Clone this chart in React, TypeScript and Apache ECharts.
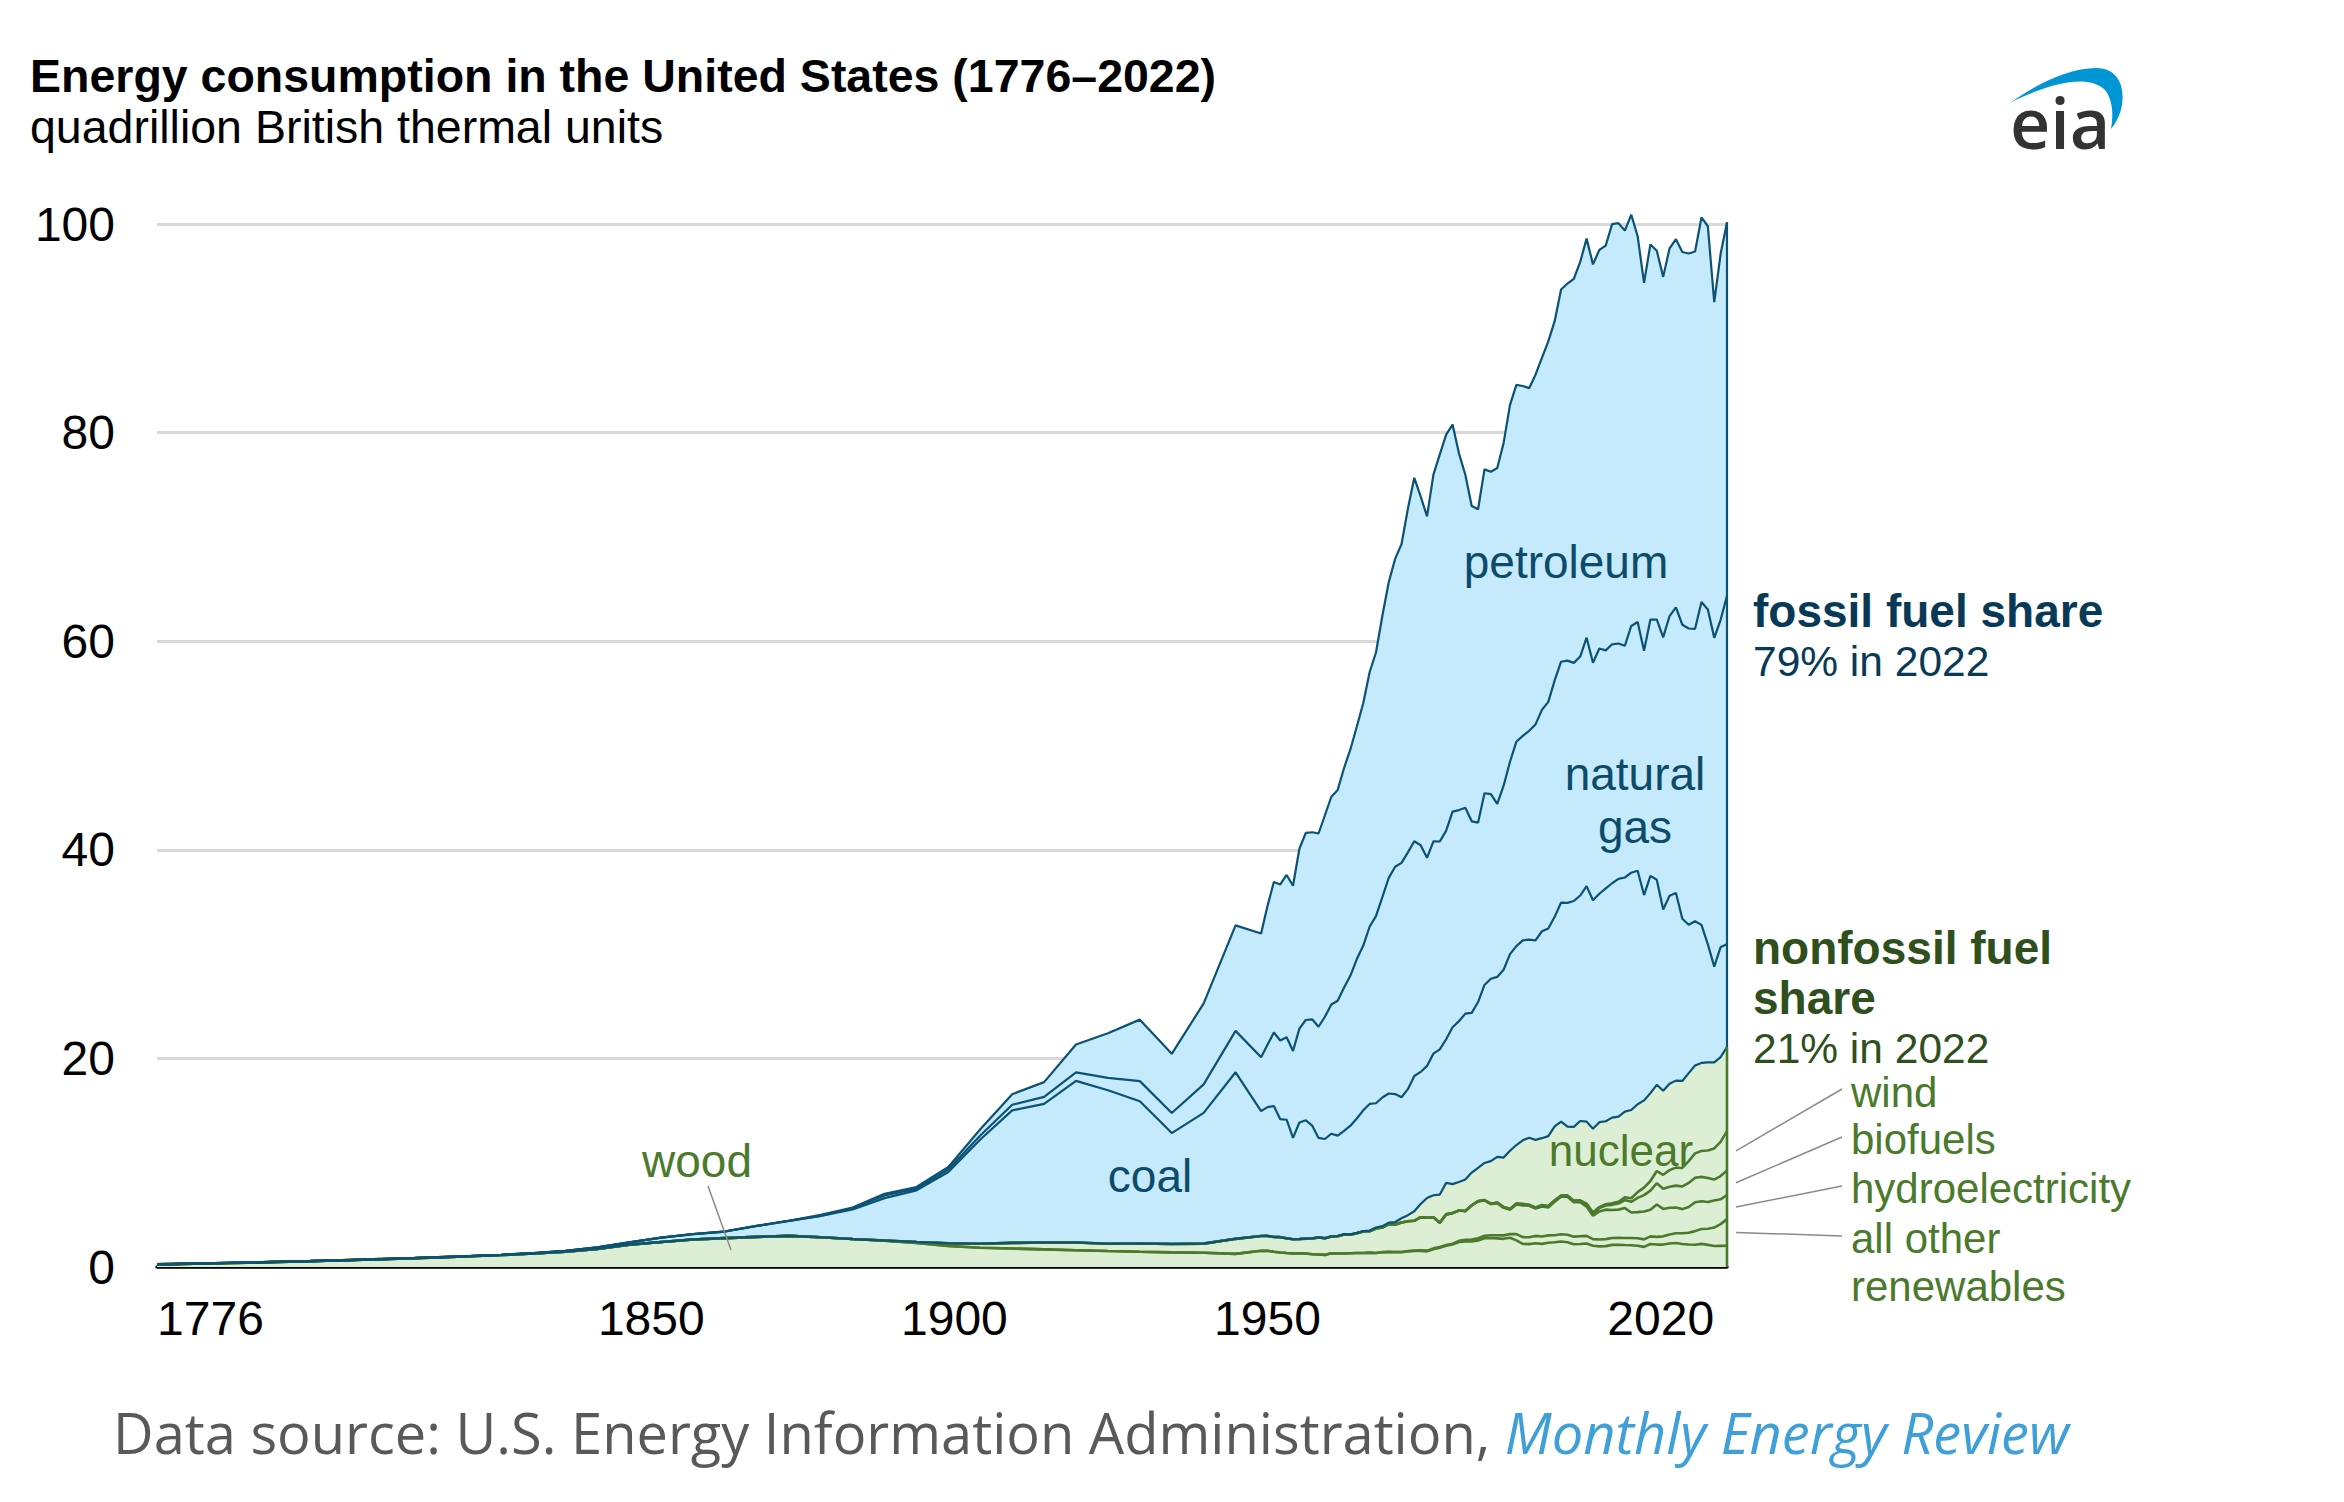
import React, { useEffect, useRef } from "react";
import * as echarts from "echarts";

// ---------- data (quadrillion Btu) ----------
const years = [
  1776, 1780, 1785, 1790, 1795, 1800, 1805, 1810, 1815, 1820, 1825, 1830, 1835, 1840, 1845,
  1850, 1855, 1860, 1865, 1870, 1875, 1880, 1885, 1890, 1895, 1900, 1905, 1910, 1915, 1920,
  1925, 1930, 1935, 1940, 1945,
  1949, 1950, 1951, 1952, 1953, 1954, 1955, 1956, 1957, 1958, 1959,
  1960, 1961, 1962, 1963, 1964, 1965, 1966, 1967, 1968, 1969,
  1970, 1971, 1972, 1973, 1974, 1975, 1976, 1977, 1978, 1979,
  1980, 1981, 1982, 1983, 1984, 1985, 1986, 1987, 1988, 1989,
  1990, 1991, 1992, 1993, 1994, 1995, 1996, 1997, 1998, 1999,
  2000, 2001, 2002, 2003, 2004, 2005, 2006, 2007, 2008, 2009,
  2010, 2011, 2012, 2013, 2014, 2015, 2016, 2017, 2018, 2019,
  2020, 2021, 2022,
];

const wood = [
  0.25, 0.30, 0.36, 0.42, 0.49, 0.56, 0.64, 0.73, 0.82, 0.92, 1.03, 1.15, 1.29, 1.47, 1.74,
  2.14, 2.39, 2.64, 2.77, 2.89, 2.98, 2.85, 2.68, 2.52, 2.31, 2.02, 1.84, 1.77, 1.69, 1.61,
  1.53, 1.46, 1.40, 1.36, 1.26,
  1.55, 1.56, 1.46, 1.39, 1.34, 1.30, 1.32, 1.29, 1.22, 1.20, 1.16,
  1.32, 1.29, 1.30, 1.32, 1.34, 1.34, 1.37, 1.34, 1.42, 1.44,
  1.43, 1.43, 1.50, 1.53, 1.54, 1.50, 1.71, 1.84, 2.04, 2.15,
  2.40, 2.45, 2.46, 2.55, 2.75, 2.78, 2.74, 2.70, 2.80, 2.55,
  2.22, 2.19, 2.28, 2.22, 2.32, 2.37, 2.44, 2.37, 2.18, 2.21,
  2.26, 2.04, 1.98, 2.00, 2.12, 2.14, 2.11, 2.09, 2.04, 1.93,
  2.21, 2.15, 2.15, 2.26, 2.30, 2.21, 2.15, 2.13, 2.22, 2.12,
  2.01, 2.03, 2.04,
];

const otherRenewables = [
  0, 0, 0, 0, 0, 0, 0, 0, 0, 0, 0, 0, 0, 0, 0,
  0, 0, 0, 0, 0, 0, 0, 0, 0, 0, 0, 0, 0, 0, 0,
  0, 0, 0, 0, 0,
  0, 0, 0, 0, 0, 0, 0, 0, 0, 0, 0,
  0.001, 0.002, 0.002, 0.004, 0.005, 0.004, 0.004, 0.007, 0.009, 0.013,
  0.011, 0.012, 0.031, 0.043, 0.053, 0.070, 0.078, 0.077, 0.064, 0.084,
  0.11, 0.15, 0.17, 0.20, 0.24, 0.27, 0.30, 0.33, 0.35, 0.60,
  0.64, 0.66, 0.70, 0.70, 0.71, 0.67, 0.70, 0.72, 0.73, 0.74,
  0.72, 0.63, 0.66, 0.67, 0.66, 0.66, 0.67, 0.69, 0.71, 0.72,
  0.73, 0.74, 0.79, 0.86, 0.93, 1.02, 1.14, 1.31, 1.42, 1.55,
  1.77, 2.08, 2.55,
];

const hydro = [
  0, 0, 0, 0, 0, 0, 0, 0, 0, 0, 0, 0, 0, 0, 0,
  0, 0, 0, 0, 0, 0, 0, 0, 0.02, 0.09, 0.25, 0.39, 0.54, 0.66, 0.74,
  0.70, 0.79, 0.81, 0.88, 1.44,
  1.42, 1.42, 1.42, 1.47, 1.41, 1.36, 1.36, 1.43, 1.52, 1.64, 1.59,
  1.61, 1.66, 1.82, 1.77, 1.89, 2.06, 2.06, 2.35, 2.35, 2.65,
  2.63, 2.82, 2.86, 2.86, 3.18, 3.15, 2.98, 2.33, 2.94, 2.93,
  2.90, 2.76, 3.27, 3.53, 3.39, 2.97, 3.07, 2.64, 2.33, 2.84,
  3.05, 3.02, 2.62, 2.89, 2.68, 3.21, 3.59, 3.64, 3.30, 3.27,
  2.81, 2.24, 2.69, 2.83, 2.69, 2.70, 2.87, 2.45, 2.51, 2.67,
  2.54, 3.10, 2.63, 2.56, 2.47, 2.32, 2.47, 2.77, 2.66, 2.56,
  2.59, 2.38, 2.31,
];

const biofuels = [
  0, 0, 0, 0, 0, 0, 0, 0, 0, 0, 0, 0, 0, 0, 0,
  0, 0, 0, 0, 0, 0, 0, 0, 0, 0, 0, 0, 0, 0, 0,
  0, 0, 0, 0, 0,
  0, 0, 0, 0, 0, 0, 0, 0, 0, 0, 0,
  0, 0, 0, 0, 0, 0, 0, 0, 0, 0,
  0, 0, 0, 0, 0, 0, 0, 0, 0, 0,
  0, 0.013, 0.019, 0.035, 0.043, 0.052, 0.064, 0.072, 0.071, 0.082,
  0.11, 0.07, 0.08, 0.10, 0.11, 0.12, 0.09, 0.10, 0.12, 0.12,
  0.23, 0.25, 0.31, 0.40, 0.49, 0.58, 0.77, 1.02, 1.37, 1.57,
  1.84, 2.04, 1.93, 2.01, 2.10, 2.17, 2.30, 2.34, 2.34, 2.31,
  2.01, 2.23, 2.35,
];

const wind = [
  0, 0, 0, 0, 0, 0, 0, 0, 0, 0, 0, 0, 0, 0, 0,
  0, 0, 0, 0, 0, 0, 0, 0, 0, 0, 0, 0, 0, 0, 0,
  0, 0, 0, 0, 0,
  0, 0, 0, 0, 0, 0, 0, 0, 0, 0, 0,
  0, 0, 0, 0, 0, 0, 0, 0, 0, 0,
  0, 0, 0, 0, 0, 0, 0, 0, 0, 0,
  0, 0, 0, 0, 0, 0, 0, 0, 0.001, 0.022,
  0.029, 0.031, 0.030, 0.031, 0.036, 0.033, 0.033, 0.034, 0.031, 0.046,
  0.057, 0.070, 0.105, 0.115, 0.142, 0.178, 0.264, 0.341, 0.546, 0.721,
  0.923, 1.168, 1.340, 1.601, 1.728, 1.777, 2.096, 2.343, 2.482, 2.635,
  2.99, 3.27, 3.78,
];

const nuclear = [
  0, 0, 0, 0, 0, 0, 0, 0, 0, 0, 0, 0, 0, 0, 0,
  0, 0, 0, 0, 0, 0, 0, 0, 0, 0, 0, 0, 0, 0, 0,
  0, 0, 0, 0, 0,
  0, 0, 0, 0, 0, 0, 0, 0, 0, 0.002, 0.002,
  0.006, 0.02, 0.03, 0.04, 0.04, 0.04, 0.06, 0.09, 0.14, 0.15,
  0.24, 0.41, 0.58, 0.91, 1.27, 1.90, 2.11, 2.70, 3.02, 2.78,
  2.74, 3.01, 3.13, 3.20, 3.55, 4.08, 4.38, 4.75, 5.59, 5.60,
  6.10, 6.42, 6.48, 6.41, 6.69, 7.08, 7.09, 6.60, 7.07, 7.61,
  7.86, 8.03, 8.14, 7.96, 8.22, 8.16, 8.21, 8.46, 8.43, 8.36,
  8.43, 8.27, 8.06, 8.27, 8.34, 8.34, 8.43, 8.42, 8.44, 8.45,
  8.25, 8.13, 8.06,
];

const coal = [
  0, 0, 0, 0, 0, 0, 0, 0, 0, 0.01, 0.01, 0.02, 0.04, 0.08, 0.15,
  0.22, 0.42, 0.52, 0.63, 1.05, 1.44, 2.05, 2.84, 4.06, 4.95, 6.84, 10.00, 12.71, 13.29, 15.50,
  14.71, 13.64, 10.63, 12.54, 15.97,
  11.98, 12.35, 12.55, 11.31, 11.37, 9.72, 11.17, 11.35, 10.82, 9.53, 9.52,
  9.84, 9.62, 9.91, 10.41, 10.96, 11.58, 12.14, 11.91, 12.33, 12.38,
  12.27, 11.60, 12.08, 12.97, 12.66, 12.66, 13.58, 13.92, 13.77, 15.04,
  15.42, 15.91, 15.32, 15.89, 17.07, 17.48, 17.26, 18.01, 18.85, 19.07,
  19.17, 18.99, 19.12, 19.84, 19.91, 20.09, 21.00, 21.45, 21.66, 21.62,
  22.58, 21.91, 21.90, 22.32, 22.47, 22.80, 22.45, 22.75, 22.39, 19.69,
  20.83, 19.66, 17.38, 18.04, 17.99, 15.55, 14.23, 13.84, 13.24, 11.31,
  9.18, 10.55, 9.85,
];

const naturalGas = [
  0, 0, 0, 0, 0, 0, 0, 0, 0, 0, 0, 0, 0, 0, 0,
  0, 0, 0, 0, 0, 0, 0, 0.14, 0.26, 0.15, 0.25, 0.37, 0.54, 0.67, 0.81,
  1.19, 1.93, 1.92, 2.73, 3.97,
  5.15, 5.97, 7.05, 7.55, 7.91, 8.33, 9.00, 9.61, 10.19, 10.66, 11.72,
  12.39, 12.93, 13.73, 14.40, 15.29, 15.77, 16.99, 17.94, 19.21, 20.68,
  21.79, 22.47, 22.70, 22.51, 21.73, 19.95, 20.35, 19.93, 20.00, 20.67,
  20.24, 19.74, 18.36, 17.20, 18.38, 17.70, 16.59, 17.64, 18.45, 19.60,
  19.60, 20.03, 20.71, 21.23, 21.73, 22.67, 23.09, 23.22, 22.83, 22.91,
  23.82, 22.77, 23.51, 22.83, 22.91, 22.56, 22.22, 23.66, 23.84, 23.42,
  24.57, 24.95, 26.09, 26.81, 27.38, 28.19, 28.40, 28.03, 30.96, 32.10,
  31.52, 31.38, 33.41,
];

const petroleum = [
  0, 0, 0, 0, 0, 0, 0, 0, 0, 0, 0, 0, 0, 0, 0,
  0, 0, 0.003, 0.01, 0.011, 0.011, 0.096, 0.04, 0.156, 0.168, 0.229, 0.61, 1.007, 1.418, 2.676,
  4.28, 5.897, 5.675, 7.76, 10.11,
  11.88, 13.32, 14.43, 14.96, 15.56, 15.84, 17.25, 17.94, 17.93, 18.53, 19.32,
  19.92, 20.22, 21.05, 21.70, 22.30, 23.25, 24.40, 25.28, 26.98, 28.34,
  29.52, 30.56, 32.95, 34.84, 33.45, 32.73, 35.17, 37.12, 37.97, 37.12,
  34.20, 31.93, 30.23, 30.05, 31.05, 30.92, 32.20, 32.87, 34.22, 34.21,
  33.55, 32.85, 33.53, 33.74, 34.56, 34.44, 35.68, 36.16, 36.82, 37.84,
  38.26, 38.19, 38.22, 38.81, 40.29, 40.30, 39.80, 39.43, 36.99, 35.27,
  35.97, 35.36, 34.56, 35.25, 35.30, 35.74, 35.96, 36.18, 36.87, 36.75,
  32.18, 35.07, 35.81,
];

const xTickYears = [1776, 1850, 1900, 1950, 2020];
const yTicks = [0, 20, 40, 60, 80, 100];

// ---------- styles ----------
const FONT = '"Liberation Sans", Arial, Helvetica, sans-serif';
const FOSSIL_FILL = "#c4eafb";
const NONFOSSIL_FILL = "#dcefd4";
const TEAL = "#0b5274";
const GREEN = "#4b7a2c";
const TEAL_TEXT = "#0d4b6b";
const TEAL_BOLD = "#083a58";
const GREEN_TEXT = "#4b7a2c";
const GREEN_BOLD = "#2f4f1d";

const SWOOSH_D =
  "M2,38 C30,18 62,3 88,3 C108,3 117,18 114,40 C112,50 108,58 103,64 C106,48 104,32 96,24 C80,10 45,16 2,38 Z";

let swooshRegistered = false;

export default function App() {
  const ref = useRef<HTMLDivElement>(null);

  useEffect(() => {
    document.body.style.margin = "0";
    if (!swooshRegistered) {
      echarts.graphic.registerShape("eiaSwoosh", echarts.graphic.extendPath(SWOOSH_D, {}) as any);
      swooshRegistered = true;
    }
    const chart = echarts.init(ref.current!, null, { renderer: "svg" });

    const layers = [
      { name: "wood", values: wood, color: GREEN, width: 2.6 },
      { name: "all other renewables", values: otherRenewables, color: GREEN, width: 2.6 },
      { name: "hydroelectricity", values: hydro, color: GREEN, width: 2.6 },
      { name: "biofuels", values: biofuels, color: GREEN, width: 2.6 },
      { name: "wind", values: wind, color: GREEN, width: 2.6 },
      { name: "nuclear", values: nuclear, color: TEAL, width: 2.2 },
      { name: "coal", values: coal, color: TEAL, width: 2.2 },
      { name: "natural gas", values: naturalGas, color: TEAL, width: 2.2 },
      { name: "petroleum", values: petroleum, color: TEAL, width: 2.2 },
    ];
    // cumulative tops of each layer (stack built from the arrays)
    const tops: number[][] = [];
    layers.forEach((l, li) => {
      tops.push(l.values.map((v, i) => (li > 0 ? tops[li - 1][i] : 0) + v));
    });
    const pairs = (arr: number[]) => years.map((y, i) => [y, arr[i]]);
    const last = years.length - 1;
    const lastYear = years[last];
    const nonfossilTop = tops[5][last];
    const totalTop = tops[8][last];

    const areaSeries = [
      {
        type: "line",
        name: "fossil area",
        data: pairs(tops[8]),
        symbol: "none",
        silent: true,
        clip: false,
        z: 1,
        lineStyle: { width: 0 },
        areaStyle: { color: FOSSIL_FILL, opacity: 1 },
      },
      {
        type: "line",
        name: "nonfossil area",
        data: pairs(tops[5]),
        symbol: "none",
        silent: true,
        clip: false,
        z: 1,
        lineStyle: { width: 0 },
        areaStyle: { color: NONFOSSIL_FILL, opacity: 1 },
      },
    ];

    const lineSeries = layers.map((l, li) => ({
      type: "line",
      name: l.name,
      data: pairs(tops[li]),
      symbol: "none",
      silent: true,
      clip: false,
      z: l.color === TEAL ? 4 : 3,
      lineStyle: { color: l.color, width: l.width },
    }));

    chart.setOption({
      animation: false,
      grid: { left: 157, right: 2344 - 1727, top: 224, bottom: 1502 - 1267, containLabel: false },
      xAxis: {
        type: "value",
        min: years[0],
        max: lastYear,
        splitLine: { show: false },
        axisTick: { show: false },
        axisLine: { show: true, onZero: false, lineStyle: { color: "#000", width: 3.5 } },
        axisLabel: {
          customValues: xTickYears,
          margin: 27,
          fontSize: 48,
          fontFamily: FONT,
          color: "#000",
          formatter: (v: number) => {
            if (v === xTickYears[0]) return `{l|${v}}`;
            if (v === xTickYears[1]) return `{a|${v}}`;
            if (v === xTickYears[2]) return `{b|${v}}`;
            if (v === xTickYears[4]) return `{r|${v}}`;
            return `{c|${v}}`;
          },
          rich: {
            l: { padding: [0, 0, 0, 107] },
            a: { padding: [0, 0, 0, 44] },
            b: { padding: [0, 0, 0, 12] },
            c: {},
            r: { padding: [0, 107, 0, 0] },
          },
        },
      },
      yAxis: {
        type: "value",
        min: yTicks[0],
        max: yTicks[yTicks.length - 1],
        interval: 20,
        axisLine: { show: false },
        axisTick: { show: false },
        splitLine: { lineStyle: { color: "#d9d9d9", width: 3 } },
        axisLabel: { fontSize: 48, fontFamily: FONT, color: "#000", margin: 42 },
      },
      series: [...areaSeries, ...lineSeries],
    });

    const px = (x: number, y: number) =>
      chart.convertToPixel({ xAxisIndex: 0, yAxisIndex: 0 }, [x, y]) as number[];

    const txt = (
      text: string,
      x: number,
      y: number,
      size: number,
      color: string,
      opts: { bold?: boolean; align?: string; lineHeight?: number } = {}
    ) => ({
      type: "text",
      x,
      y,
      z: 100,
      silent: true,
      style: {
        text,
        fill: color,
        fontSize: size,
        fontFamily: FONT,
        fontWeight: opts.bold ? "bold" : "normal",
        align: opts.align || "left",
        verticalAlign: "middle",
        lineHeight: opts.lineHeight,
      },
    });

    // leader lines from the mid-point of each renewable layer at the last year
    const leaderLabels = [
      { layer: 4, labelY: 1091 },
      { layer: 3, labelY: 1139 },
      { layer: 2, labelY: 1188 },
      { layer: 1, labelY: 1238 },
    ];
    const leaders = leaderLabels.map((d) => {
      const mid = (tops[d.layer][last] + tops[d.layer - 1][last]) / 2;
      const p = px(lastYear, mid);
      return {
        type: "line",
        z: 90,
        silent: true,
        shape: { x1: p[0] + 9, y1: p[1], x2: 1842, y2: d.labelY - 2 },
        style: { stroke: "#8a8a8a", lineWidth: 1.5 },
      };
    });

    // right-hand edges of the two filled groups
    const p0 = px(lastYear, 0);
    const pNF = px(lastYear, nonfossilTop);
    const pTot = px(lastYear, totalTop);
    const edges = [
      {
        type: "line",
        z: 50,
        silent: true,
        shape: { x1: p0[0], y1: p0[1], x2: pNF[0], y2: pNF[1] },
        style: { stroke: GREEN, lineWidth: 2.6 },
      },
      {
        type: "line",
        z: 51,
        silent: true,
        shape: { x1: pNF[0], y1: pNF[1], x2: pTot[0], y2: pTot[1] },
        style: { stroke: TEAL, lineWidth: 2.2 },
      },
    ];

    chart.setOption({
      graphic: [
        ...edges,
        txt("Energy consumption in the United States (1776–2022)", 30, 76, 46.5, "#000", { bold: true }),
        txt("quadrillion British thermal units", 30, 127, 46.5, "#000"),
        txt("petroleum", 1566, 562, 46, TEAL_TEXT, { align: "center" }),
        txt("natural\ngas", 1635, 800, 46, TEAL_TEXT, { align: "center", lineHeight: 53 }),
        txt("coal", 1150, 1176, 46, TEAL_TEXT, { align: "center" }),
        txt("wood", 697, 1161, 46, GREEN_TEXT, { align: "center" }),
        txt("nuclear", 1621, 1150, 44, GREEN_TEXT, { align: "center" }),
        txt("fossil fuel share", 1753, 611, 46, TEAL_BOLD, { bold: true }),
        txt("79% in 2022", 1753, 661, 42.5, TEAL_BOLD),
        txt("nonfossil fuel", 1753, 948, 46, GREEN_BOLD, { bold: true }),
        txt("share", 1753, 998, 46, GREEN_BOLD, { bold: true }),
        txt("21% in 2022", 1753, 1048, 42.5, GREEN_BOLD, { lineHeight: 42 }),
        txt("wind", 1851, 1092, 42, GREEN_TEXT, { lineHeight: 42 }),
        txt("biofuels", 1851, 1139, 42, GREEN_TEXT, { lineHeight: 42 }),
        txt("hydroelectricity", 1851, 1188, 42, GREEN_TEXT, { lineHeight: 42 }),
        txt("all other", 1851, 1238, 42, GREEN_TEXT, { lineHeight: 42 }),
        txt("renewables", 1851, 1286, 42, GREEN_TEXT, { lineHeight: 42 }),
        ...leaders,
        {
          type: "line",
          z: 90,
          silent: true,
          shape: { x1: 708, y1: 1186, x2: 731, y2: 1250 },
          style: { stroke: "#8a8a8a", lineWidth: 1.5 },
        },
        {
          type: "eiaSwoosh",
          x: 2008,
          y: 65,
          z: 100,
          silent: true,
          style: { fill: "#0096d6" },
        },
        {
          type: "text",
          x: 2010,
          y: 122,
          z: 100,
          silent: true,
          style: {
            text: "eia",
            fill: "#333333",
            fontSize: 70,
            fontFamily: '"Open Sans", sans-serif',
            fontWeight: 600,
            align: "left",
            verticalAlign: "middle",
          },
        },
        {
          type: "text",
          x: 113,
          y: 1432,
          z: 100,
          silent: true,
          style: {
            text: "{a|Data source: U.S. Energy Information Administration, }{b|Monthly Energy Review}",
            verticalAlign: "middle",
            align: "left",
            rich: {
              a: { fontSize: 56, fontFamily: '"Open Sans", sans-serif', fill: "#595959" },
              b: {
                fontSize: 56,
                fontFamily: '"Open Sans", sans-serif',
                fontStyle: "italic",
                fill: "#3f9fd8",
              },
            },
          },
        },
      ],
    });

    return () => chart.dispose();
  }, []);

  return <div ref={ref} style={{ width: 2344, height: 1502 }} />;
}
